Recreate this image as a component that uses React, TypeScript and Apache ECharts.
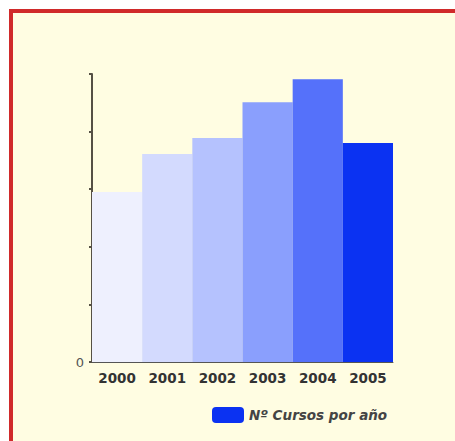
import React, { useEffect, useRef } from "react";
import * as echarts from "echarts";

const categories = ["2000", "2001", "2002", "2003", "2004", "2005"];
const values = [29.5, 36.1, 38.9, 45.1, 49.1, 38.0];
const barColors = ["#EEF0FE", "#D3DAFE", "#B5C2FE", "#8A9FFD", "#5571FA", "#0B32F2"];
const seriesName = "Nº Cursos por año";
const yTickLabels: Record<number, string> = { 0: "0" };

export default function App() {
  const ref = useRef<HTMLDivElement>(null);
  useEffect(() => {
    const chart = echarts.init(ref.current!, null, { renderer: "svg" });
    chart.setOption({
      animation: false,
      backgroundColor: "#FFFFFF",
      graphic: [
        {
          type: "rect",
          z: -10,
          shape: { x: 11, y: 11, width: 444, height: 430 },
          style: { fill: "#FFFDE2" },
        },
        {
          type: "line",
          z: -9,
          shape: { x1: 11, y1: 9, x2: 11, y2: 441 },
          style: { stroke: "#D02A2A", lineWidth: 4 },
        },
        {
          type: "line",
          z: -9,
          shape: { x1: 9, y1: 11, x2: 455, y2: 11 },
          style: { stroke: "#D02A2A", lineWidth: 4 },
        },
      ],
      grid: { left: 92, right: 62, top: 74, bottom: 79, containLabel: false },
      legend: {
        data: [{ name: seriesName, itemStyle: { color: "#0B32F2" } }],
        left: 212,
        top: 407,
        padding: 0,
        itemWidth: 32,
        itemHeight: 16,
        itemGap: 8,
        textStyle: {
          fontFamily: "DejaVu Sans",
          fontStyle: "italic",
          fontWeight: "bold",
          fontSize: 13.5,
          color: "#444",
        },
      },
      xAxis: {
        type: "category",
        data: categories,
        axisLine: { show: true, lineStyle: { color: "#555", width: 1 } },
        axisTick: { show: false },
        axisLabel: {
          margin: 9,
          fontFamily: "DejaVu Sans",
          fontWeight: "bold",
          fontSize: 13.5,
          color: "#333",
        },
      },
      yAxis: {
        type: "value",
        min: 0,
        max: 50,
        interval: 10,
        splitLine: { show: false },
        axisLine: { show: true, lineStyle: { color: "#555045", width: 2 } },
        axisTick: { show: true, length: 3, lineStyle: { color: "#555045", width: 2 } },
        axisLabel: {
          formatter: (v: number) => yTickLabels[v] ?? "",
          fontFamily: "DejaVu Sans",
          fontSize: 13,
          color: "#555",
          margin: 8,
        },
      },
      series: [
        {
          name: seriesName,
          type: "bar",
          barCategoryGap: "0%",
          data: values.map((v, i) => ({ value: v, itemStyle: { color: barColors[i] } })),
          itemStyle: { color: "#0B32F2" },
        },
      ],
    });
    return () => chart.dispose();
  }, []);
  return (
    <div
      ref={ref}
      style={{ position: "absolute", left: 0, top: 0, width: 455, height: 441 }}
    />
  );
}
